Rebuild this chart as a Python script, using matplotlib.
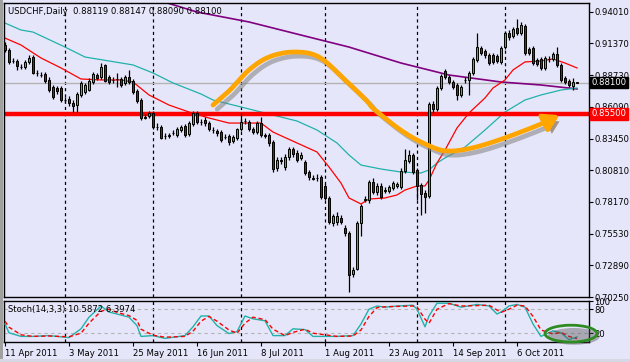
import numpy as np
import matplotlib
matplotlib.use('Agg')
import matplotlib.pyplot as plt
import matplotlib.patheffects as pe
from matplotlib.patches import Ellipse, Rectangle
from matplotlib.transforms import blended_transform_factory

# daily bars USDCHF, 11 Apr 2011 .. 27 Oct 2011
opens = [.9124, .9082, .8991, .8991, .8945, .8941, .8983, .9024, .8891, .8877,
         .8883, .8833, .8774, .8766, .8766, .8666, .8674, .8641, .8624, .8708,
         .8733, .8749, .8816, .8874, .8858, .8958, .8858, .8833, .8841, .8841,
         .8808, .8858, .8824, .8741, .8666, .8524, .8533, .8558, .8441, .8441,
         .8366, .8374, .8391, .8374, .8416, .8449, .8383, .8466, .8558, .8483,
         .8499, .8474, .8416, .8408, .8399, .8358, .8366, .8324, .8349, .8424,
         .8491, .8483, .8424, .8399, .8474, .8374, .8374, .8316, .8099, .8166,
         .8108, .8191, .8258, .8224, .8183, .8149, .8066, .8016, .8016, .8024,
         .7950, .7850, .7641, .7650, .7683, .7600, .7558, .7217, .7258, .7641,
         .7837, .7833, .7983, .7900, .7950, .7912, .7908, .7933, .7950, .7941,
         .8074, .8158, .8208, .8083, .7958, .7891, .7866, .8633, .8591, .8766,
         .8908, .8858, .8816, .8791, .8708, .8829, .8833, .8891, .8999, .9099,
         .9074, .9041, .9041, .9033, .8983, .9107, .9224, .9199, .9266, .9224,
         .9282, .9091, .9099, .8999, .9008, .8933, .9008, .9008, .9049, .8958,
         .8849, .8824, .8783, .88119]
highs = [.9149, .9099, .9016, .9008, .8966, .8999, .9041, .9041, .8916, .8899,
         .8899, .8858, .8791, .8783, .8783, .8691, .8699, .8666, .8733, .8824,
         .8808, .8849, .8899, .8891, .8974, .8966, .8874, .8858, .8891, .8858,
         .8874, .8916, .8841, .8758, .8683, .8549, .8574, .8574, .8474, .8458,
         .8391, .8391, .8416, .8441, .8458, .8466, .8491, .8574, .8574, .8508,
         .8524, .8491, .8441, .8424, .8416, .8383, .8383, .8374, .8433, .8558,
         .8516, .8499, .8441, .8491, .8524, .8391, .8391, .8333, .8191, .8191,
         .8216, .8274, .8274, .8249, .8233, .8166, .8083, .8041, .8049, .8041,
         .7966, .7866, .7716, .7733, .7708, .7625, .7575, .7275, .7658, .7800,
         .7866, .7999, .8016, .7974, .7974, .7941, .7958, .7991, .7983, .8099,
         .8258, .8249, .8224, .8099, .7974, .7916, .8649, .8658, .8783, .8883,
         .8924, .8874, .8833, .8808, .8791, .8858, .8908, .9024, .9224, .9116,
         .9091, .9058, .9058, .9049, .9116, .9241, .9249, .9274, .9341, .9316,
         .9299, .9107, .9116, .9016, .9024, .9033, .9033, .9066, .9107, .8974,
         .8866, .8841, .8849, .88147]
lows = [.9066, .8966, .8974, .8916, .8924, .8924, .8966, .8883, .8866, .8858,
        .8808, .8733, .8674, .8716, .8649, .8641, .8616, .8566, .8566, .8691,
        .8716, .8741, .8799, .8833, .8841, .8816, .8799, .8808, .8774, .8774,
        .8791, .8799, .8716, .8641, .8499, .8508, .8516, .8424, .8416, .8341,
        .8341, .8349, .8374, .8358, .8399, .8358, .8366, .8449, .8466, .8458,
        .8449, .8408, .8391, .8366, .8316, .8341, .8291, .8308, .8333, .8408,
        .8466, .8408, .8383, .8383, .8358, .8349, .8283, .8066, .8074, .8133,
        .8083, .8166, .8191, .8149, .8166, .8041, .7999, .7999, .7991, .7841,
        .7833, .7633, .7616, .7625, .7633, .7533, .7067, .7192, .7250, .7533,
        .7816, .7808, .7883, .7875, .7841, .7891, .7891, .7916, .7933, .7925,
        .8058, .8141, .8049, .7833, .7708, .7725, .7850, .8558, .8574, .8749,
        .8841, .8799, .8758, .8666, .8691, .8808, .8708, .8874, .8983, .9041,
        .9016, .8958, .8966, .8974, .8966, .9091, .9166, .9182, .9207, .9207,
        .9041, .9041, .8958, .8949, .8916, .8916, .8983, .8991, .8941, .8816,
        .8799, .8774, .8749, .88090]
closes = [.9082, .8983, .8989, .8949, .8941, .8983, .9016, .8891, .8887, .8874,
          .8824, .8749, .8691, .8741, .8666, .8662, .8641, .8616, .8716, .8808,
          .8791, .8824, .8883, .8849, .8941, .8824, .8816, .8829, .8837, .8791,
          .8858, .8816, .8733, .8658, .8516, .8520, .8558, .8441, .8437, .8349,
          .8362, .8370, .8387, .8424, .8441, .8374, .8474, .8558, .8483, .8479,
          .8474, .8424, .8412, .8391, .8333, .8354, .8316, .8358, .8424, .8483,
          .8487, .8424, .8399, .8474, .8374, .8370, .8308, .8091, .8166, .8162,
          .8191, .8258, .8216, .8166, .8208, .8058, .8024, .8012, .8020, .7858,
          .7850, .7650, .7700, .7700, .7650, .7558, .7208, .7250, .7641, .7783,
          .7841, .7983, .7900, .7950, .7858, .7916, .7941, .7974, .7966, .8074,
          .8166, .8208, .8066, .7950, .7883, .7858, .8633, .8591, .8766, .8866,
          .8858, .8816, .8774, .8708, .8774, .8833, .8891, .9008, .9107, .9058,
          .9041, .8974, .8983, .8991, .9099, .9224, .9191, .9257, .9224, .9291,
          .9058, .9058, .8974, .8966, .8933, .9016, .9004, .9049, .8958, .8833,
          .8816, .8791, .8812, .88100]

# moving averages read at some bars
red_ma_idx = [0, 4, 9, 14, 19, 24, 29, 32, 36, 41, 46, 51, 56, 61, 64, 67, 73, 78, 81, 84,
              86, 89, 91, 95, 98, 100, 103, 105, 106, 108, 110, 113, 116, 120, 122, 125, 127,
              130, 134, 137, 140, 143]
red_ma = [.9182, .9124, .9016, .8933, .8841, .8833, .8833, .8816, .8708, .8624, .8566, .8516,
          .8474, .8474, .8474, .8399, .8308, .8233, .8108, .7974, .7850, .7800, .7841, .7850,
          .7875, .7916, .7950, .7950, .7999, .8141, .8249, .8433, .8558, .8683, .8766, .8833,
          .8916, .8983, .8991, .9008, .8974, .8933]
teal_ma_idx = [0, 4, 7, 15, 20, 26, 32, 37, 42, 49, 52, 59, 64, 69, 73, 78, 83, 86, 89, 94,
               99, 104, 106, 108, 110, 115, 120, 125, 130, 134, 139, 143]
teal_ma = [.9307, .9249, .9232, .9107, .9024, .8991, .8958, .8891, .8808, .8716, .8666, .8608,
           .8566, .8524, .8491, .8416, .8308, .8208, .8124, .8091, .8066, .8058, .8083, .8141,
           .8183, .8274, .8416, .8566, .8666, .8708, .8749, .8766]
purple_ma_idx = [40, 48, 61, 74, 86, 99, 111, 124, 134, 143]
purple_ma = [.9480, .9399, .9316, .9207, .9107, .8974, .8874, .8816, .8791, .8758]

# stochastic (14,3,3)
stoch_idx = [0, 1, 4, 7, 11, 16, 19, 21, 24, 26, 28, 31, 33, 34, 37, 40, 45, 47, 49, 51, 53,
             56, 58, 60, 62, 65, 67, 70, 72, 75, 77, 83, 87, 89, 91, 93, 95, 98, 102, 103, 105,
             106, 108, 111, 114, 118, 121, 123, 124, 126, 128, 130, 132, 134, 137, 139, 141, 143]
stoch_k = [43, 21, 12, 12, 14, 9, 31, 60, 88, 73, 68, 60, 39, 12, 14, 7, 14, 36, 63, 63, 39,
           19, 24, 63, 56, 51, 14, 14, 31, 29, 12, 12, 14, 43, 80, 88, 85, 88, 90, 80, 36,
           63, 95, 95, 85, 92, 88, 68, 73, 88, 92, 85, 43, 12, 26, 21, 4, 10.5872]
stoch_d = [50, 35, 16, 12, 13, 11, 20, 45, 75, 80, 72, 64, 52, 30, 15, 10, 12, 25, 50, 62, 50,
           28, 20, 45, 60, 54, 30, 14, 22, 30, 20, 12, 13, 28, 62, 84, 86, 87, 88, 86, 55,
           45, 80, 94, 88, 89, 90, 78, 72, 80, 90, 88, 62, 28, 18, 22, 12, 6.3974]

price_ticks = [0.94010, 0.91370, 0.88730, 0.86090, 0.83450, 0.80810, 0.78170, 0.75530, 0.72890, 0.70250]
date_idx = [0, 16, 32, 48, 64, 80, 96, 112, 128]
date_labels = ['11 Apr 2011', '3 May 2011', '25 May 2011', '16 Jun 2011', '8 Jul 2011',
               '1 Aug 2011', '23 Aug 2011', '14 Sep 2011', '6 Oct 2011']
grid_idx = [15, 37, 59, 80, 103, 125]
support = 0.85500
last_price = 0.88100

# hand drawn arrow (bar, price)
arrow_pts = [(52, .8624), (56.25, .8749), (61, .8916), (66, .9024), (72.25, .9066), (78.5, .9024),
             (85, .8833), (90.25, .8666), (92.5, .8583), (100, .8391), (106.75, .8274), (111, .8241),
             (116.75, .8266), (123.5, .8333), (130.25, .8416), (135.25, .8483)]
arrow_tip = (138.6, .8540)

BG = '#E6E6FA'
FS = 6.1
plt.rcParams['font.family'] = 'DejaVu Sans'


def catmull(pts, n=16):
    pts = np.asarray(pts, float)
    p = np.vstack([pts[0], pts, pts[-1]])
    out = []
    t = np.linspace(0, 1, n, endpoint=False)[:, None]
    for i in range(1, len(p) - 2):
        p0, p1, p2, p3 = p[i - 1], p[i], p[i + 1], p[i + 2]
        out.append(0.5 * (2 * p1 + (-p0 + p2) * t + (2 * p0 - 5 * p1 + 4 * p2 - p3) * t ** 2
                          + (-p0 + 3 * p1 - 3 * p2 + p3) * t ** 3))
    out.append(p[-2][None])
    return np.vstack(out)


fig = plt.figure(figsize=(6.3, 3.62), dpi=100, facecolor=BG)
W, H = 630.0, 362.0
ax = fig.add_axes([4 / W, 1 - 297 / H, 585 / W, 294 / H], facecolor=BG)
ax2 = fig.add_axes([4 / W, 1 - 342 / H, 585 / W, 41 / H], facecolor=BG)

# window frame
fig.patches.append(Rectangle((0, 0), 2.5 / W, 1, transform=fig.transFigure, fc='#A0A0A0', ec='none'))
fig.patches.append(Rectangle((0, 0), 1, 3 / H, transform=fig.transFigure, fc='#D8D8E4', ec='none'))

n = len(closes)
x = np.arange(n)
o = np.array(opens); c = np.array(closes); h = np.array(highs); l = np.array(lows)
up = c >= o

for a in (ax, ax2):
    for g in grid_idx:
        a.axvline(g, color='black', lw=0.9, ls=(0, (2.5, 2.5)), zorder=1)

ax.axhline(last_price, color='#B4B4B4', lw=1, zorder=1)
ax.plot(purple_ma_idx, purple_ma, color='#800080', lw=1.2, zorder=2)
ax.plot(teal_ma_idx, teal_ma, color='#20B2AA', lw=0.9, zorder=2)
ax.plot(red_ma_idx, red_ma, color='#FF0000', lw=0.9, zorder=2)
ax.axhline(support, color='#FF0000', lw=3.2, zorder=2)

ax.vlines(x, l, h, color='black', lw=0.9, zorder=3)
body_lo = np.minimum(o, c)
body_h = np.abs(c - o)
ax.bar(x[up], body_h[up], bottom=body_lo[up], width=0.65, color='#00E600', edgecolor='black', lw=0.7, zorder=4)
ax.bar(x[~up], body_h[~up], bottom=body_lo[~up], width=0.65, color='#CC0000', edgecolor='black', lw=0.7, zorder=4)

# orange arrow
curve = catmull(arrow_pts)
shadow = [pe.SimpleLineShadow(offset=(3, -3), shadow_color='#808080', alpha=0.55), pe.Normal()]
ax.plot(curve[:, 0], curve[:, 1], color='#FFA500', lw=3.4, solid_capstyle='round', zorder=5,
        path_effects=shadow)
ax.annotate('', xy=arrow_tip, xytext=arrow_pts[-1],
            arrowprops=dict(arrowstyle='-|>,head_length=0.9,head_width=0.55', color='#FFA500',
                            lw=3.4, shrinkA=0, shrinkB=0,
                            path_effects=[pe.SimplePatchShadow(offset=(3, -3), alpha=0.45), pe.Normal()]),
            zorder=5)

ax.set_xlim(-0.25, 146)
ax.set_ylim(0.7025, 0.9474)
ax.yaxis.tick_right()
ax.set_yticks(price_ticks)
ax.set_yticklabels(['%.5f' % v for v in price_ticks])
ax.tick_params(axis='y', direction='out', length=3, width=0.8, pad=0.8, labelsize=FS, colors='black')
ax.set_xticks([])
for s in ax.spines.values():
    s.set_color('black'); s.set_linewidth(1)

tr = blended_transform_factory(ax.transAxes, ax.transData)
ax.text(1.0045, last_price, '%.5f' % last_price, transform=tr, fontsize=FS, color='white', va='center',
        ha='left', zorder=10, bbox=dict(boxstyle='square,pad=0.15', fc='black', ec='black'))
ax.text(1.0045, support, '%.5f' % support, transform=tr, fontsize=FS, color='white', va='center',
        ha='left', zorder=10, bbox=dict(boxstyle='square,pad=0.15', fc='#FF0000', ec='#FF0000'))
ax.text(0.007, 0.972, 'USDCHF,Daily  %.5f %.5f %.5f %.5f' % (opens[-1], highs[-1], lows[-1], closes[-1]),
        transform=ax.transAxes, fontsize=FS, color='black', va='center', ha='left')

# stochastic panel
for lvl in (80, 20):
    ax2.axhline(lvl, color='#B4B4B4', lw=0.8, ls=(0, (3, 3)), zorder=1)
ax2.plot(stoch_idx, stoch_k, color='#20B2AA', lw=1.0, zorder=3)
ax2.plot(stoch_idx, stoch_d, color='#FF0000', lw=1.0, ls=(0, (3, 2)), zorder=3)
ax2.set_xlim(-0.25, 146)
ax2.set_ylim(-2, 100.5)
ax2.yaxis.tick_right()
ax2.set_yticks([100, 80, 20])
ax2.set_yticklabels(['100', '80', '20'])
ax2.tick_params(axis='y', direction='out', length=3, pad=0.8, labelsize=FS)
ax2.set_xticks(date_idx)
ax2.set_xticklabels(date_labels, ha='left')
ax2.tick_params(axis='x', direction='out', length=3, pad=2, labelsize=FS)
for s in ax2.spines.values():
    s.set_color('black'); s.set_linewidth(1)
ax2.text(0.007, 0.8, 'Stoch(14,3,3) %.4f %.4f' % (stoch_k[-1], stoch_d[-1]), transform=ax2.transAxes,
         fontsize=FS, color='black', va='center', ha='left', zorder=6)
ell = Ellipse((141.5, 19), 13, 42, fill=False, ec='#2E8B22', lw=2, clip_on=False, zorder=6,
              path_effects=[pe.SimplePatchShadow(offset=(2, -2), alpha=0.4), pe.Normal()])
ax2.add_patch(ell)

fig.savefig('out.png', dpi=100, facecolor=BG)
